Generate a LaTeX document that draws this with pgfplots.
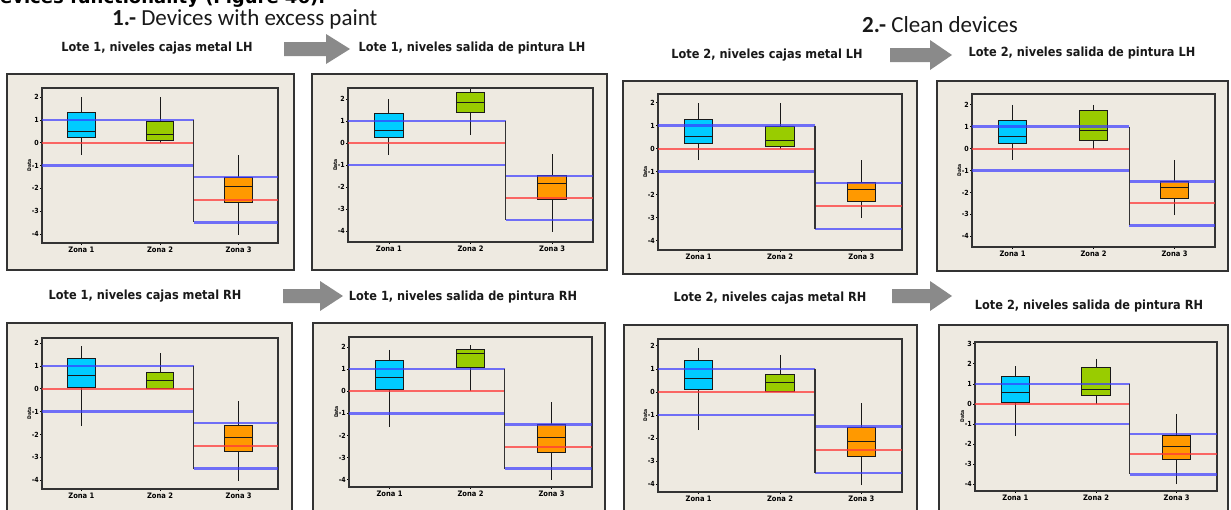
\documentclass[border=0pt]{standalone}
\usepackage{fontspec}
\usepackage{pgfplots}
\pgfplotsset{compat=1.18}
\usepgfplotslibrary{statistics}
\setmainfont{DejaVu Sans}
\newfontfamily\tfont{DejaVu Sans Condensed}
\newfontfamily\hfont{Carlito}
\definecolor{beige}{HTML}{EEEAE1}
\definecolor{cza}{HTML}{00CCFF}
\definecolor{czb}{HTML}{99CC00}
\definecolor{czc}{HTML}{FF9900}
\definecolor{refblue}{HTML}{3A3AFF}
\definecolor{refred}{HTML}{FF3A3A}
\definecolor{arrowgray}{HTML}{8A8A8A}
\definecolor{framec}{HTML}{333333}

\pgfplotsset{
  panel/.style={
    scale only axis, anchor=north west,
    xmin=0.5, xmax=3.5,
    xtick={1,2,3}, xticklabels={Zona 1,Zona 2,Zona 3},
    ytick={-4,-3,...,3},
    tick align=outside, major tick length=2pt,
    tick pos=left,
    tick style={black, line width=0.6pt},
    axis line style={black!80, line width=1.2pt},
    /pgf/number format/assume math mode=true,
    yticklabel style={font=\tfont\bfseries\fontsize{7}{8}\selectfont, inner sep=1pt},
    xticklabel style={font=\tfont\bfseries\fontsize{7.5}{8}\selectfont, inner sep=1.5pt},
    ylabel={Data},
    ylabel style={font=\tfont\bfseries\fontsize{5}{6}\selectfont, yshift=-4pt},
    clip=true,
    boxplot/draw direction=y,
  }
}
\newcommand{\bp}[7]{\addplot[draw=black!90, line width=1pt, fill=#2,
  boxplot prepared={draw position=#1, lower whisker=#3, lower quartile=#4,
  median=#5, upper quartile=#6, upper whisker=#7, box extend=0.35, whisker extend=0}] coordinates {};}
\newcommand{\refl}[1]{%
  \addplot[refblue, line width=2.4pt, opacity=0.7] coordinates {(0.5,1) (#1,1)};
  \addplot[refblue, line width=2.4pt, opacity=0.7] coordinates {(0.5,-1) (#1,-1)};
  \addplot[refred, line width=2pt, opacity=0.75] coordinates {(0.5,0) (#1,0)};
  \addplot[refblue, line width=2.4pt, opacity=0.7] coordinates {(#1,-1.5) (3.5,-1.5)};
  \addplot[refblue, line width=2.4pt, opacity=0.7] coordinates {(#1,-3.5) (3.5,-3.5)};
  \addplot[refred, line width=2pt, opacity=0.75] coordinates {(#1,-2.5) (3.5,-2.5)};
  \addplot[black!80, line width=1.2pt] coordinates {(#1,1) (#1,-3.5)};
}
\newcommand{\frm}[4]{\draw[framec, line width=2pt, fill=beige] (#1pt,-#2pt) rectangle (#3pt,-#4pt);}
\newcommand{\arr}[4]{% x0, xhead, xtip, yc
  \fill[arrowgray] (#1pt,-#4pt+7pt) -- (#2pt,-#4pt+7pt) -- (#2pt,-#4pt+15pt) -- (#3pt,-#4pt) --
  (#2pt,-#4pt-15pt) -- (#2pt,-#4pt-7pt) -- (#1pt,-#4pt-7pt) -- cycle;}
\newcommand{\ttl}[3]{\node[font=\tfont\bfseries\fontsize{12.6}{14}\selectfont, text=black!90, inner sep=0pt] at (#1pt,-#2pt) {#3};}

\begin{document}
\begin{tikzpicture}
\useasboundingbox (0pt,0pt) rectangle (1231pt,-509pt);
\clip (0pt,0pt) rectangle (1231pt,-509pt);
\fill[white] (0pt,0pt) rectangle (1231pt,-509pt);

% header line, cut at the very top as in the reference
\node[anchor=base west, font=\bfseries\fontsize{18}{20}\selectfont, inner sep=0pt] at (-13pt,-3pt) {devices functionality (Figure 46).};

\node[anchor=west, font=\hfont\fontsize{23}{25}\selectfont, inner sep=0pt, text=black!90] at (112pt,-19pt) {\textbf{1.-} Devices with excess paint};
\node[anchor=west, font=\hfont\fontsize{23}{25}\selectfont, inner sep=0pt, text=black!90] at (862pt,-25pt) {\textbf{2.-} Clean devices};

\ttl{157}{48}{Lote 1, niveles cajas metal LH}
\ttl{472}{48}{Lote 1, niveles salida de pintura LH}
\ttl{767}{55}{Lote 2, niveles cajas metal LH}
\ttl{1082}{53}{Lote 2, niveles salida de pintura LH}
\ttl{145}{296}{Lote 1, niveles cajas metal RH}
\ttl{463}{297}{Lote 1, niveles salida de pintura RH}
\ttl{770}{298}{Lote 2, niveles cajas metal RH}
\ttl{1089}{306}{Lote 2, niveles salida de pintura RH}

\arr{284}{326}{350}{49}
\arr{890}{930}{952}{55}
\arr{283}{320}{343}{296}
\arr{892}{930}{952}{296}

\frm{7}{74}{294}{270}
\frm{312}{74}{607}{270}
\frm{623}{81}{917}{274}
\frm{937}{81}{1228}{271}
\frm{7}{323}{292}{520}
\frm{313}{323}{605}{520}
\frm{624}{325}{917}{520}
\frm{939}{325}{1228}{520}

% Panel 1
\begin{axis}[panel, at={(42pt,-88pt)}, width=236pt, height=155pt, ymin=-4.4, ymax=2.4]
\bp{1}{cza}{-0.55}{0.21}{0.5}{1.31}{2.0}
\bp{2}{czb}{0.0}{0.1}{0.38}{0.94}{2.0}
\bp{3}{czc}{-4.03}{-2.63}{-1.93}{-1.52}{-0.54}
\refl{2.43}
\end{axis}
% Panel 2
\begin{axis}[panel, at={(348pt,-88pt)}, width=245pt, height=154pt, ymin=-4.5, ymax=2.5]
\bp{1}{cza}{-0.55}{0.24}{0.59}{1.32}{2.0}
\bp{2}{czb}{0.36}{1.4}{1.83}{2.29}{2.45}
\bp{3}{czc}{-4.03}{-2.56}{-1.86}{-1.5}{-0.51}
\refl{2.43}
\end{axis}
% Panel 3
\begin{axis}[panel, at={(658pt,-94pt)}, width=244pt, height=156pt, ymin=-4.41, ymax=2.37]
\bp{1}{cza}{-0.5}{0.23}{0.52}{1.27}{1.97}
\bp{2}{czb}{0.0}{0.08}{0.37}{0.95}{1.97}
\bp{3}{czc}{-3.0}{-2.28}{-1.78}{-1.49}{-0.5}
\refl{2.43}
\end{axis}
% Panel 4
\begin{axis}[panel, at={(972pt,-94pt)}, width=243pt, height=153pt, ymin=-4.49, ymax=2.49]
\bp{1}{cza}{-0.52}{0.21}{0.55}{1.28}{2.0}
\bp{2}{czb}{0.0}{0.36}{0.82}{1.76}{2.0}
\bp{3}{czc}{-3.05}{-2.28}{-1.79}{-1.52}{-0.52}
\refl{2.44}
\end{axis}
% Panel 5
\begin{axis}[panel, at={(42pt,-338pt)}, width=236pt, height=151pt, ymin=-4.39, ymax=2.22]
\bp{1}{cza}{-1.64}{0.05}{0.59}{1.32}{1.86}
\bp{2}{czb}{0.0}{0.0}{0.37}{0.73}{1.56}
\bp{3}{czc}{-4.04}{-2.77}{-2.14}{-1.6}{-0.53}
\refl{2.43}
\end{axis}
% Panel 6
\begin{axis}[panel, at={(349pt,-337pt)}, width=243pt, height=150pt, ymin=-4.33, ymax=2.45]
\bp{1}{cza}{-1.62}{0.07}{0.6}{1.38}{1.88}
\bp{2}{czb}{0.0}{1.05}{1.7}{1.88}{2.07}
\bp{3}{czc}{-4.0}{-2.77}{-2.07}{-1.52}{-0.5}
\refl{2.42}
\end{axis}
% Panel 7
\begin{axis}[panel, at={(658pt,-339pt)}, width=244pt, height=153pt, ymin=-4.33, ymax=2.29]
\bp{1}{cza}{-1.65}{0.09}{0.6}{1.37}{1.9}
\bp{2}{czb}{0.0}{0.0}{0.42}{0.74}{1.6}
\bp{3}{czc}{-4.04}{-2.78}{-2.13}{-1.55}{-0.49}
\refl{2.43}
\end{axis}
% Panel 8
\begin{axis}[panel, at={(975pt,-342pt)}, width=242pt, height=149pt, ymin=-4.33, ymax=3.08]
\bp{1}{cza}{-1.61}{0.05}{0.56}{1.34}{1.87}
\bp{2}{czb}{0.0}{0.4}{0.7}{1.79}{2.25}
\bp{3}{czc}{-4.0}{-2.77}{-2.1}{-1.56}{-0.52}
\refl{2.42}
\end{axis}
\end{tikzpicture}
\end{document}
